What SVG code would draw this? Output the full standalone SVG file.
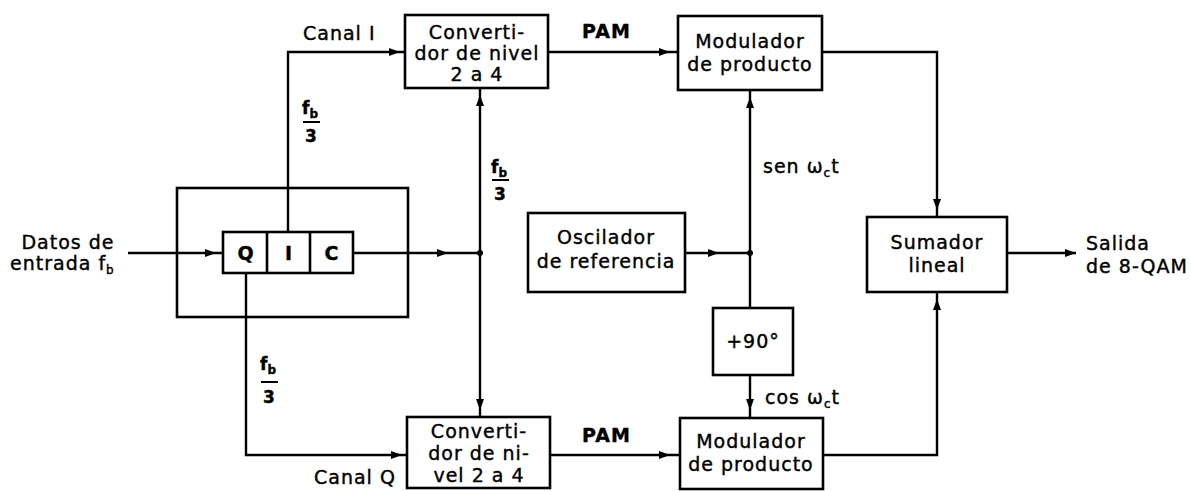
<svg xmlns="http://www.w3.org/2000/svg" width="1191" height="491" viewBox="0 0 1191 491">
<style>
.b{fill:none;stroke:#000;stroke-width:2.6}
.c{fill:none;stroke:#000;stroke-width:2.4}
.ah{fill:#000;stroke:none}
text{stroke:#000;stroke-width:0.4}
.t{font-family:"DejaVu Sans",sans-serif;font-size:19px;letter-spacing:1px;fill:#000;text-anchor:middle}
.l{font-family:"DejaVu Sans",sans-serif;font-size:19px;letter-spacing:1px;fill:#000}
.p{font-family:"DejaVu Sans",sans-serif;font-size:19px;font-weight:bold;letter-spacing:1px;fill:#000}
.f{font-family:"DejaVu Sans",sans-serif;font-size:17px;font-weight:bold;fill:#000;text-anchor:middle}
.s{font-size:12px}
</style>
<rect width="1191" height="491" fill="#fff"/>
<g id="connectors">
<line class="c" x1="128" y1="253" x2="223" y2="253"/>
<polygon class="ah" points="216,253 205,249 205,257"/>
<path class="c" d="M288,232 V52 H405"/>
<polygon class="ah" points="400,52 389,48 389,56"/>
<path class="c" d="M246,273 V455 H407"/>
<polygon class="ah" points="402,455 391,451 391,459"/>
<line class="c" x1="353" y1="253" x2="480" y2="253"/>
<polygon class="ah" points="448,253 437,249 437,257"/>
<circle cx="480" cy="253" r="3" fill="#000"/>
<line class="c" x1="480" y1="88" x2="480" y2="417"/>
<polygon class="ah" points="480,95 476,106 484,106"/>
<polygon class="ah" points="480,410 476,399 484,399"/>
<line class="c" x1="548" y1="52" x2="678" y2="52"/>
<polygon class="ah" points="670,52 659,48 659,56"/>
<line class="c" x1="550" y1="455" x2="680" y2="455"/>
<polygon class="ah" points="670,455 659,451 659,459"/>
<line class="c" x1="685" y1="253" x2="750" y2="253"/>
<polygon class="ah" points="719,253 708,249 708,257"/>
<circle cx="750" cy="253" r="3" fill="#000"/>
<line class="c" x1="750" y1="90" x2="750" y2="308"/>
<polygon class="ah" points="750,97 746,108 754,108"/>
<line class="c" x1="750" y1="375" x2="750" y2="418"/>
<polygon class="ah" points="750,410 746,399 754,399"/>
<path class="c" d="M822,52 H937 V217"/>
<polygon class="ah" points="937,210 933,199 941,199"/>
<path class="c" d="M823,455 H937 V292"/>
<polygon class="ah" points="937,299 933,310 941,310"/>
<line class="c" x1="1007" y1="253" x2="1076" y2="253"/>
<polygon class="ah" points="1076,253 1065,249 1065,257"/>
</g>
<g id="input-label">
<text class="t" x="68" y="249">Datos de</text>
<text class="l" x="10" y="270">entrada f<tspan class="s" dy="4">b</tspan></text>
</g>
<g id="splitter">
<rect class="b" x="177" y="188" width="231" height="129"/>
</g>
<g id="qic">
<rect class="b" x="223" y="232" width="130" height="41"/>
<line class="b" x1="267" y1="232" x2="267" y2="273"/>
<line class="b" x1="310" y1="232" x2="310" y2="273"/>
<text class="t" x="246" y="260" style="font-weight:bold">Q</text>
<text class="t" x="289" y="260" style="font-weight:bold">I</text>
<text class="t" x="332" y="260" style="font-weight:bold">C</text>
</g>
<g id="labels">
<text class="l" x="303" y="40">Canal I</text>
<text class="l" x="314" y="484">Canal Q</text>
<text class="p" x="582" y="38">PAM</text>
<text class="p" x="582" y="442">PAM</text>
<text class="l" x="763" y="173">sen ω<tspan class="s" dy="4">c</tspan><tspan dy="-4">t</tspan></text>
<text class="l" x="765" y="404">cos ω<tspan class="s" dy="4">c</tspan><tspan dy="-4">t</tspan></text>
<g id="frac1">
<text class="f" x="310" y="114">f<tspan class="s" dy="4">b</tspan></text>
<line x1="303" y1="122" x2="320" y2="122" stroke="#000" stroke-width="2"/>
<text class="f" x="311" y="142">3</text>
</g>
<g id="frac2">
<text class="f" x="499" y="173">f<tspan class="s" dy="4">b</tspan></text>
<line x1="492" y1="180" x2="509" y2="180" stroke="#000" stroke-width="2"/>
<text class="f" x="500" y="200">3</text>
</g>
<g id="frac3">
<text class="f" x="268" y="370">f<tspan class="s" dy="4">b</tspan></text>
<line x1="261" y1="382" x2="278" y2="382" stroke="#000" stroke-width="2"/>
<text class="f" x="269" y="403">3</text>
</g>
</g>
<g id="conv-i">
<rect class="b" x="405" y="15" width="143" height="73"/>
<text class="t" x="477" y="39">Converti-</text>
<text class="t" x="477" y="60">dor de nivel</text>
<text class="t" x="477" y="81">2 a 4</text>
</g>
<g id="conv-q">
<rect class="b" x="407" y="417" width="143" height="71"/>
<text class="t" x="479" y="438">Converti-</text>
<text class="t" x="479" y="460">dor de ni-</text>
<text class="t" x="479" y="482">vel 2 a 4</text>
</g>
<g id="mod-i">
<rect class="b" x="678" y="16" width="144" height="74"/>
<text class="t" x="750" y="48">Modulador</text>
<text class="t" x="750" y="71">de producto</text>
</g>
<g id="mod-q">
<rect class="b" x="680" y="418" width="143" height="71"/>
<text class="t" x="751" y="448">Modulador</text>
<text class="t" x="751" y="471">de producto</text>
</g>
<g id="osc">
<rect class="b" x="528" y="213" width="157" height="79"/>
<text class="t" x="606" y="244">Oscilador</text>
<text class="t" x="606" y="268">de referencia</text>
</g>
<g id="shift">
<rect class="b" x="713" y="308" width="80" height="67"/>
<text class="t" x="753" y="348">+90°</text>
</g>
<g id="sum">
<rect class="b" x="867" y="217" width="140" height="75"/>
<text class="t" x="937" y="249">Sumador</text>
<text class="t" x="937" y="272">lineal</text>
</g>
<g id="output-label">
<text class="l" x="1086" y="250">Salida</text>
<text class="l" x="1086" y="273">de 8-QAM</text>
</g>
</svg>
